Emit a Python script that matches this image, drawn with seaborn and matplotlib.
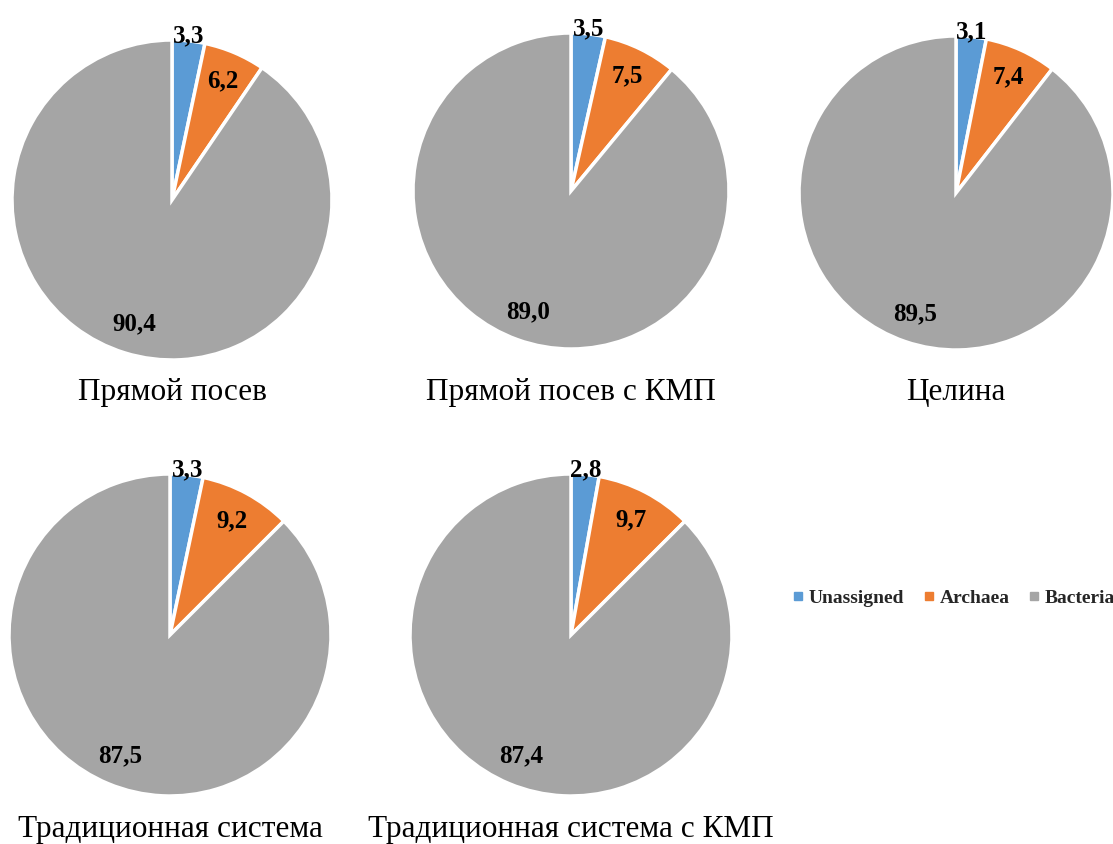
import matplotlib
matplotlib.use("Agg")
import matplotlib.pyplot as plt
from matplotlib.lines import Line2D
import numpy as np
import seaborn as sns

sns.set_theme(style="white")
plt.rcParams["font.family"] = ["Liberation Serif", "DejaVu Serif"]

# Taxonomic composition per soil treatment, %
categories = ["Unassigned", "Archaea", "Bacteria"]
treatments = ["Прямой посев", "Прямой посев с КМП", "Целина",
              "Традиционная система", "Традиционная система с КМП"]
unassigned = [3.3, 3.5, 3.1, 3.3, 2.8]
archaea = [6.2, 7.5, 7.4, 9.2, 9.7]
bacteria = [90.4, 89.0, 89.5, 87.5, 87.4]

colors = sns.color_palette(["#5B9BD5", "#ED7D31", "#A5A5A5"])

W, H = 1113, 844
fig = plt.figure(figsize=(W / 100, H / 100), dpi=100)

# pixel centers / radii of each pie and vertical position of its caption
pies = [
    (172, 200, 160, 393),
    (571, 191, 158, 393),
    (956, 193, 157, 393),
    (170, 635, 161, 829),
    (571, 635, 161, 829),
]

for i, (cx, cy, r, ty) in enumerate(pies):
    ax = fig.add_axes([(cx - r) / W, (H - cy - r) / H, 2 * r / W, 2 * r / H])
    vals = [unassigned[i], archaea[i], bacteria[i]]
    ax.pie(vals, colors=colors, startangle=90, counterclock=False,
           radius=1.0,
           wedgeprops=dict(edgecolor="white", linewidth=2.5))
    ax.set_xlim(-1.0, 1.0)
    ax.set_ylim(-1.0, 1.0)
    ax.axis("off")
    total = sum(vals)
    start = 0.0
    for k, v in enumerate(vals):
        mid = (start + v / 2) / total * 360.0
        ang = np.deg2rad(90 - mid)
        dist = 1.03 if k == 0 else 0.81
        ax.text(dist * np.cos(ang), dist * np.sin(ang),
                f"{v:.1f}".replace(".", ","), ha="center", va="center",
                fontsize=18, fontweight="bold", color="black", clip_on=False)
        start += v
    fig.text(cx / W, 1 - ty / H, treatments[i], ha="center", va="center",
             fontsize=22.5, color="black")

handles = [Line2D([0], [0], marker="s", linestyle="none", markersize=6,
                  markerfacecolor=c, markeredgecolor=c) for c in colors]
leg = fig.legend(handles, categories, loc="center", ncol=3,
                 bbox_to_anchor=(954 / W, 1 - 598 / H), frameon=False,
                 handlelength=0.5, handletextpad=0.3, columnspacing=1.0,
                 borderpad=0.0, borderaxespad=0.0,
                 prop=dict(size=14, weight="bold"))

fig.savefig("out.png", dpi=100, facecolor="white")
